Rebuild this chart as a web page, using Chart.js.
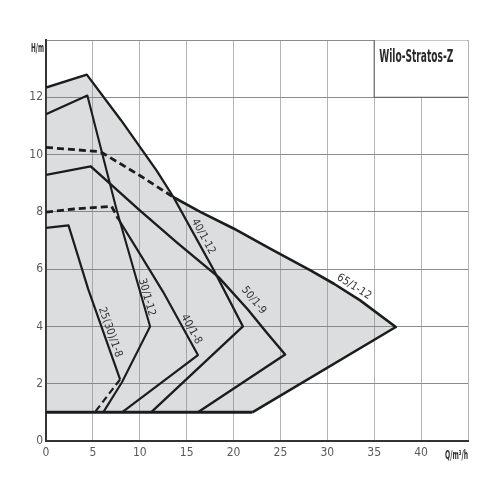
<!DOCTYPE html>
<html><head><meta charset="utf-8">
<script src="https://cdn.jsdelivr.net/npm/chart.js@4"></script>
<style>html,body{margin:0;padding:0;background:#fff}canvas{display:block}</style>
</head><body>
<canvas id="c" width="500" height="500"></canvas>
<script>
// ---- data ----
const xTickValues = [0, 5, 10, 15, 20, 25, 30, 35, 40];
const yTickValues = [0, 2, 4, 6, 8, 10, 12];

const q65Dash = [0, 5.8, 10.0, 13.6];
const h65Dash = [10.25, 10.1, 9.27, 8.51];
const q65 = [13.6, 16.5, 20.0, 23.9, 28.2, 30.7, 33.5, 37.3, 22.0];
const h65 = [8.51, 7.99, 7.42, 6.72, 5.96, 5.49, 4.91, 3.98, 1.0];
const q40_12 = [0, 4.35, 8.0, 11.8, 13.6, 17.9, 21.0, 11.2];
const h40_12 = [12.34, 12.79, 11.2, 9.44, 8.51, 5.96, 4.0, 1.0];
const q50_9 = [0, 4.77, 10.0, 14.0, 18.4, 21.5, 23.5, 25.5, 16.2];
const h50_9 = [9.29, 9.59, 8.05, 6.92, 5.72, 4.6, 3.8, 3.02, 1.0];
const q30_12 = [0, 4.41, 7.55, 11.1, 8.1, 6.1];
const h30_12 = [11.41, 12.06, 8.05, 4.0, 2.05, 1.0];
const q40_8Dash = [0, 3.0, 7.0, 7.7];
const h40_8Dash = [7.99, 8.1, 8.19, 7.76];
const q40_8 = [7.7, 9.7, 12.5, 16.2, 8.1];
const h40_8 = [7.76, 6.7, 5.2, 3.0, 1.0];
const q25_8 = [0, 2.4, 4.5, 7.9];
const h25_8 = [7.44, 7.53, 5.3, 2.15];
const q25_8Dash = [7.9, 5.2];
const h25_8Dash = [2.15, 1.0];
const qMin = [0, 22.0];
const hMin = [1.0, 1.0];
// outline of the whole operating field (grey area)
const qField = [0, 4.35, 8.0, 11.8, 13.6, 16.5, 20.0, 23.9, 28.2, 30.7, 33.5, 37.3, 22.0, 0];
const hField = [12.34, 12.79, 11.2, 9.44, 8.51, 7.99, 7.42, 6.72, 5.96, 5.49, 4.91, 3.98, 1.0, 1.0];

// curve labels: text, anchor (Q,H), direction segment [q1,h1,q2,h2]
const curveLabelText = ['25(30)/1-8', '30/1-12', '40/1-8', '40/1-12', '50/1-9', '65/1-12'];
const curveLabelQ = [6.84, 10.74, 15.49, 16.77, 22.15, 32.85];
const curveLabelH = [3.80, 5.02, 3.90, 7.14, 4.91, 5.38];
const curveLabelDir = [[4.5,5.3,7.9,2.15],[7.55,8.05,11.1,4.0],[12.5,5.2,16.2,3.0],[13.6,8.51,17.9,5.96],[21.5,4.6,23.5,3.8],[30.7,5.49,33.5,4.91]];

const titleText = 'Wilo-Stratos-Z';
const xTitle = 'Q/m³/h';
const yTitle = 'H/m';

// ---- build ----
const pts = (qs, hs) => qs.map((q, i) => ({x: q, y: hs[i]}));
const NARROW = '"Liberation Sans Narrow", "DejaVu Sans Condensed", "Roboto Condensed", sans-serif';
const LINE = '#1c1c1c';

function curve(qs, hs, dashed, width) {
  return {
    data: pts(qs, hs), showLine: true, fill: false,
    borderColor: LINE, borderWidth: width || 2.4, borderDash: dashed ? [7, 4] : [],
    pointRadius: 0, tension: 0, order: 1, borderJoinStyle: 'round', borderCapStyle: 'butt'
  };
}

function fitText(ctx, text, x, y, font, width, align) {
  ctx.save();
  ctx.font = font;
  const w = ctx.measureText(text).width;
  const s = width / w;
  ctx.translate(x, y);
  ctx.scale(s, 1);
  ctx.textAlign = align;
  ctx.textBaseline = 'alphabetic';
  ctx.fillText(text, 0, 0);
  ctx.restore();
}

const overlay = {
  id: 'overlay',
  afterDatasetsDraw(chart) {
    const {ctx, scales: {x, y}} = chart;
    // title box
    const bx1 = x.getPixelForValue(35), bx2 = x.getPixelForValue(45);
    const by1 = y.getPixelForValue(14), by2 = y.getPixelForValue(12);
    ctx.save();
    ctx.fillStyle = '#fff';
    ctx.fillRect(bx1 + 0.5, by1 + 0.5, bx2 - bx1 - 1, by2 - by1 - 1);
    ctx.strokeStyle = '#6a6a6a';
    ctx.lineWidth = 1.2;
    ctx.beginPath();
    ctx.moveTo(bx1, by1); ctx.lineTo(bx1, by2); ctx.lineTo(bx2, by2);
    ctx.stroke();
    ctx.fillStyle = '#2a2a2a';
    fitText(ctx, titleText, bx1 + 5, by1 + 22, 'bold 17px ' + NARROW, 74, 'left');
    // axis titles
    ctx.fillStyle = '#333';
    fitText(ctx, yTitle, x.left - 2, y.top + 12, 'bold 12px ' + NARROW, 13, 'right');
    fitText(ctx, xTitle, x.right, y.bottom + 18, 'bold 12px ' + NARROW, 23, 'right');
    // curve labels
    ctx.fillStyle = '#333';
    ctx.font = '11px ' + NARROW;
    ctx.textAlign = 'center';
    ctx.textBaseline = 'middle';
    curveLabelText.forEach((t, i) => {
      const d = curveLabelDir[i];
      const ang = Math.atan2(y.getPixelForValue(d[3]) - y.getPixelForValue(d[1]),
                             x.getPixelForValue(d[2]) - x.getPixelForValue(d[0]));
      ctx.save();
      ctx.translate(x.getPixelForValue(curveLabelQ[i]), y.getPixelForValue(curveLabelH[i]));
      ctx.rotate(ang);
      ctx.fillText(t, 0, 0);
      ctx.restore();
    });
    ctx.restore();
  }
};

new Chart(document.getElementById('c'), {
  type: 'scatter',
  data: {
    datasets: [
      curve(qMin, hMin, false, 3),
      curve(q65Dash, h65Dash, true, 2.8),
      curve(q65, h65, false, 2.6),
      curve(q40_12, h40_12, false, 2.3),
      curve(q50_9, h50_9, false, 2.4),
      curve(q30_12, h30_12, false, 2.1),
      curve(q40_8Dash, h40_8Dash, true, 2.8),
      curve(q40_8, h40_8, false, 2.2),
      curve(q25_8, h25_8, false, 2.2),
      curve(q25_8Dash, h25_8Dash, true, 2.2),
      {
        data: pts(qField, hField), showLine: true, fill: 'shape',
        backgroundColor: 'rgba(120,124,130,0.26)', borderWidth: 0, borderColor: 'rgba(0,0,0,0)',
        pointRadius: 0, tension: 0, order: 10
      }
    ]
  },
  options: {
    responsive: false, animation: false, devicePixelRatio: 1,
    layout: {padding: {top: 40, right: 32, left: 0, bottom: 0}},
    plugins: {legend: {display: false}, tooltip: {enabled: false}},
    scales: {
      x: {
        type: 'linear', min: 0, max: 45,
        afterBuildTicks: s => { s.ticks = xTickValues.concat([45]).map(v => ({value: v})); },
        afterFit: s => { s.height = 59; },
        ticks: {
          callback: v => (xTickValues.includes(v) ? String(v) : ''),
          font: {family: NARROW, size: 12}, color: '#5a5a5a', padding: 5, maxRotation: 0, autoSkip: false
        },
        grid: {color: '#b4b4b4', lineWidth: 1, drawTicks: false},
        border: {color: '#333', width: 2}
      },
      y: {
        type: 'linear', min: 0, max: 14,
        afterBuildTicks: s => { s.ticks = yTickValues.concat([14]).map(v => ({value: v})); },
        afterFit: s => { s.width = 46; },
        ticks: {
          callback: v => (yTickValues.includes(v) ? String(v) : ''),
          font: {family: NARROW, size: 12}, color: '#5a5a5a', padding: 3, autoSkip: false
        },
        grid: {color: '#8c8c8c', lineWidth: 1, drawTicks: false},
        border: {color: '#333', width: 2}
      }
    }
  },
  plugins: [overlay]
});
</script>
</body></html>
